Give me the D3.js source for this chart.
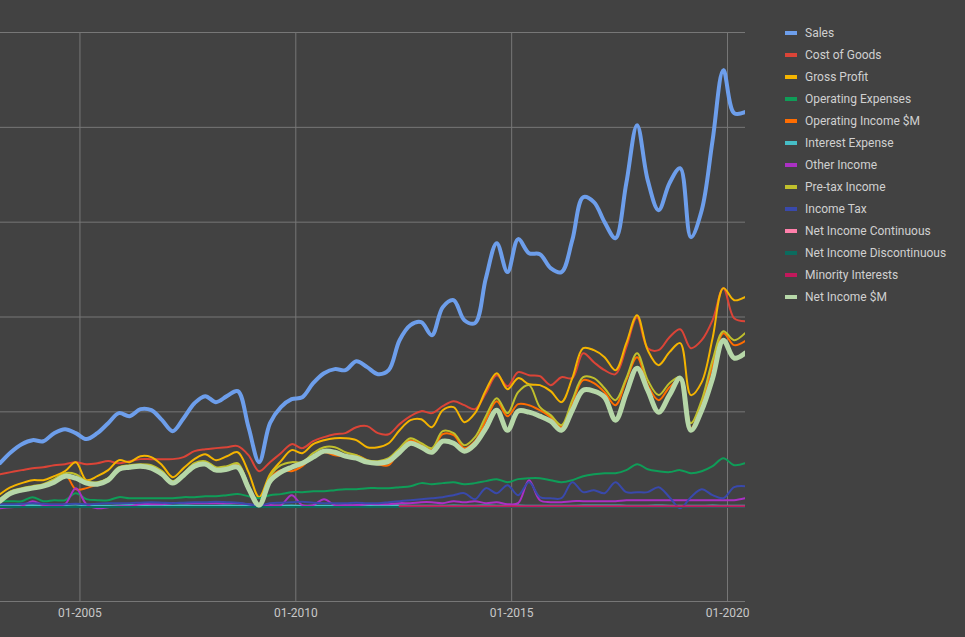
<!DOCTYPE html>
<html>
<head>
<meta charset="utf-8">
<script src="https://cdn.jsdelivr.net/npm/d3@7"></script>
<style>
  html, body { margin: 0; padding: 0; background: #424242; }
  svg { display: block; font-family: Roboto, 'Noto Sans', sans-serif; }
</style>
</head>
<body>
<script>
// quarterly periods, $M
const quarters = [
  '2003-03', '2003-06', '2003-09', '2003-12', '2004-03', '2004-06', '2004-09', '2004-12',
  '2005-03', '2005-06', '2005-09', '2005-12', '2006-03', '2006-06', '2006-09', '2006-12',
  '2007-03', '2007-06', '2007-09', '2007-12', '2008-03', '2008-06', '2008-09', '2008-12',
  '2009-03', '2009-06', '2009-09', '2009-12', '2010-03', '2010-06', '2010-09', '2010-12',
  '2011-03', '2011-06', '2011-09', '2011-12', '2012-03', '2012-06', '2012-09', '2012-12',
  '2013-03', '2013-06', '2013-09', '2013-12', '2014-03', '2014-06', '2014-09', '2014-12',
  '2015-03', '2015-06', '2015-09', '2015-12', '2016-03', '2016-06', '2016-09', '2016-12',
  '2017-03', '2017-06', '2017-09', '2017-12', '2018-03', '2018-06', '2018-09', '2018-12',
  '2019-03', '2019-06', '2019-09', '2019-12', '2020-03', '2020-06',
]

const tickDates = ['2005-01', '2010-01', '2015-01', '2020-01']
const tickLabels = ['01-2005', '01-2010', '01-2015', '01-2020']
const yTicks = [-1000, 0, 1000, 2000, 3000, 4000, 5000]

const sales = [453, 569, 654, 696, 685, 770, 812, 770, 707, 770,
  875, 981, 949, 1023, 1012, 907, 791, 928, 1086, 1160,
  1097, 1160, 1213, 833, 464, 875, 1044, 1128, 1149, 1297,
  1402, 1445, 1434, 1529, 1466, 1392, 1434, 1750, 1909, 1940,
  1803, 2098, 2172, 1961, 1930, 2404, 2773, 2468, 2816, 2668,
  2657, 2510, 2468, 2805, 3258, 3206, 2995, 2826, 3406, 4018,
  3438, 3121, 3406, 3564, 2837, 3121, 3859, 4598, 4144, 4155]

const costOfGoods = [337, 359, 380, 401, 411, 432, 443, 464, 443, 453,
  475, 453, 475, 496, 496, 496, 496, 517, 580, 601,
  612, 622, 633, 538, 369, 464, 559, 654, 612, 685,
  728, 759, 770, 833, 844, 770, 759, 865, 949, 1002,
  981, 1055, 1107, 1065, 1023, 1192, 1381, 1265, 1413, 1381,
  1371, 1276, 1360, 1350, 1613, 1518, 1434, 1392, 1677, 1993,
  1666, 1645, 1782, 1866, 1666, 1750, 1961, 2299, 1982, 1951]

const grossProfit = [127, 200, 243, 274, 274, 316, 369, 464, 274, 316,
  380, 485, 464, 527, 517, 432, 306, 401, 496, 548,
  485, 527, 569, 359, 95, 337, 475, 591, 559, 654,
  696, 717, 717, 696, 622, 622, 664, 801, 907, 917,
  833, 1012, 1044, 886, 981, 1223, 1402, 1234, 1350, 1286,
  1276, 1213, 1097, 1350, 1666, 1645, 1571, 1434, 1719, 2014,
  1645, 1487, 1624, 1719, 1171, 1308, 1772, 2299, 2172, 2204]

const opExpenses = [53, 53, 53, 95, 53, 63, 63, 137, 74, 63,
  63, 95, 84, 84, 84, 84, 84, 95, 95, 105,
  105, 116, 127, 105, 84, 116, 127, 148, 148, 158,
  158, 169, 179, 179, 190, 190, 190, 200, 211, 243,
  232, 243, 253, 232, 243, 264, 285, 253, 285, 295,
  295, 274, 253, 274, 316, 337, 348, 348, 380, 443,
  390, 369, 359, 380, 348, 369, 422, 506, 432, 453]

const opIncome = [63, 148, 179, 200, 221, 274, 337, 179, 190, 232,
  285, 401, 411, 432, 422, 359, 253, 337, 443, 464,
  401, 411, 443, 211, 11, 295, 380, 369, 422, 527,
  569, 538, 527, 538, 485, 443, 432, 601, 696, 643,
  591, 759, 749, 612, 685, 907, 1107, 949, 1076, 1065,
  1012, 939, 833, 1086, 1329, 1297, 1202, 1065, 1329, 1571,
  1276, 1118, 1255, 1329, 823, 1076, 1487, 1824, 1698, 1740]

const interestExp = [5, 5, 8, 10, 6, 5, 10, 18, 6, 5,
  5, 8, 12, 6, 5, 5, 5, 6, 5, 5,
  5, 6, 5, 5, 0, 5, 5, 6, 5, 5,
  5, 5, 6, 5, 5, 8, 10, 8, 5, 5,
  5, 5, 6, 5, 5, 6, 5, 5, 6, 5,
  5, 5, 5, 5, 6, 8, 8, 8, 5, 5,
  5, 6, 5, 5, 5, 5, 6, 5, 5, 5]

const otherIncome = [-21, -11, 0, 53, 11, 11, 21, 190, 21, -21,
  -11, 0, 0, 21, 21, 21, 32, 32, 32, 32,
  32, 32, 32, 21, 0, 11, 11, 116, 11, 11,
  74, 11, 11, 11, 21, 21, 21, 32, 32, 42,
  42, 32, 53, 42, 53, 32, 42, 21, 32, 274,
  63, 42, 42, 53, 53, 53, 53, 53, 63, 63,
  63, 63, 63, 63, 63, 63, 63, 63, 63, 84]

const pretaxIncome = [74, 158, 190, 211, 232, 285, 348, 337, 264, 253,
  295, 411, 432, 443, 432, 369, 264, 348, 453, 475,
  411, 422, 453, 221, 21, 316, 432, 464, 464, 559,
  622, 622, 569, 538, 485, 475, 506, 612, 717, 664,
  612, 791, 770, 643, 728, 949, 1139, 981, 1202, 1276,
  1044, 960, 854, 1118, 1360, 1350, 1244, 1118, 1350, 1613,
  1329, 1171, 1297, 1360, 875, 1118, 1540, 1845, 1750, 1824]

const incomeTax = [21, 21, 25, 30, 25, 21, 21, 25, 21, 25,
  30, 32, 32, 37, 42, 37, 32, 37, 42, 42,
  47, 42, 37, 21, 5, 32, 37, 42, 47, 37,
  32, 32, 32, 37, 32, 32, 42, 53, 63, 74,
  84, 95, 116, 137, 74, 190, 137, 221, 116, 253,
  95, 84, 84, 253, 148, 169, 137, 253, 148, 148,
  148, 200, 95, -21, 95, 179, 116, 84, 200, 211]

const netIncome = [53, 137, 169, 190, 211, 253, 316, 295, 243, 232,
  274, 390, 411, 422, 401, 337, 243, 327, 422, 443,
  380, 390, 411, 190, 11, 264, 359, 411, 453, 517,
  580, 569, 527, 506, 464, 453, 475, 569, 664, 622,
  569, 685, 664, 580, 654, 823, 1012, 801, 1002, 991,
  949, 896, 801, 1012, 1223, 1213, 1149, 907, 1192, 1455,
  1223, 991, 1171, 1350, 801, 1012, 1350, 1750, 1561, 1613]

// continuing ops == net income for this company
const netIncomeCont = netIncome

const netIncomeDisc = [-8, -8, -8, -8, -8, -8, -8, -8, -8, -8,
  -8, -8, -8, -8, -8, -8, -8, -8, -8, -8,
  -8, -8, -8, -8, -8, -8, -8, -8, -8, -8,
  -8, -8, -8, -8, -8, -8, -8, -8, -8, -8,
  -8, -8, -8, -8, -8, -8, -8, -8, -8, -8,
  -8, -8, -8, -8, -8, -8, -8, -8, -8, -8,
  -8, -8, -8, -8, -8, -8, -8, -8, -8, -8]

const minorityInt = [null, null, null, null, null, null, null, null, null, null,
  null, null, null, null, null, null, null, null, null, null,
  null, null, null, null, null, null, null, null, null, null,
  null, null, null, null, null, null, null, 0, 0, 0,
  0, 0, 0, 0, 0, 0, 0, 0, 0, 0,
  0, 0, 0, 0, 0, 0, 0, 0, 0, 0,
  0, 0, 0, 0, 0, 0, 0, 0, 0, 0]

const seriesNames = ['Sales', 'Cost of Goods', 'Gross Profit', 'Operating Expenses',
  'Operating Income $M', 'Interest Expense', 'Other Income', 'Pre-tax Income', 'Income Tax',
  'Net Income Continuous', 'Net Income Discontinuous', 'Minority Interests', 'Net Income $M']
const seriesValues = [sales, costOfGoods, grossProfit, opExpenses, opIncome, interestExp,
  otherIncome, pretaxIncome, incomeTax, netIncomeCont, netIncomeDisc, minorityInt, netIncome]
const seriesColors = ['#6d9eeb', '#db4437', '#f4b400', '#0f9d58', '#ff6d01', '#46bdc6',
  '#ab30c4', '#c0c02c', '#3949ab', '#ff80ab', '#0b6b5e', '#c2185b', '#b6d7a8']
const seriesWidths = [4, 2, 2, 2, 2, 2, 2, 2, 2, 2, 2, 2, 5]

const width = 965
const height = 637
const margin = { top: 32, right: 220, bottom: 36, left: 0 }

const parse = d3.timeParse('%Y-%m')
const dates = quarters.map(parse)

const x = d3
  .scaleTime()
  .domain([dates[0], dates[dates.length - 1]])
  .range([margin.left, width - margin.right])

const y = d3
  .scaleLinear()
  .domain([-1000, 5000])
  .range([height - margin.bottom, margin.top])

const svg = d3.create('svg').attr('width', width).attr('height', height)

svg.append('rect').attr('width', width).attr('height', height).attr('fill', '#424242')

// horizontal grid
svg
  .append('g')
  .attr('transform', `translate(${margin.left},0)`)
  .call(d3.axisLeft(y).tickValues(yTicks).tickSize(-(width - margin.right - margin.left)).tickFormat(''))
  .call(g => g.select('.domain').remove())
  .call(g => g.selectAll('.tick line').attr('stroke', '#777').attr('stroke-width', 1))

// vertical grid + labels
svg
  .append('g')
  .attr('transform', `translate(0,${height - margin.bottom})`)
  .call(
    d3
      .axisBottom(x)
      .tickValues(tickDates.map(parse))
      .tickFormat((d, i) => tickLabels[i])
      .tickSize(-(height - margin.bottom - margin.top))
      .tickPadding(7),
  )
  .call(g => g.select('.domain').remove())
  .call(g => g.selectAll('.tick line').attr('stroke', '#777'))
  .call(g =>
    g
      .selectAll('.tick text')
      .attr('fill', '#c8c8c8')
      .attr('font-size', 12)
      .attr('font-family', 'Roboto, sans-serif'),
  )

svg
  .append('clipPath')
  .attr('id', 'plot')
  .append('rect')
  .attr('x', margin.left)
  .attr('y', margin.top - 10)
  .attr('width', width - margin.right - margin.left)
  .attr('height', height - margin.bottom - margin.top + 20)

const line = d3
  .line()
  .defined(d => d[1] != null)
  .x(d => x(d[0]))
  .y(d => y(d[1]))
  .curve(d3.curveCatmullRom.alpha(0.5))

svg
  .append('g')
  .attr('clip-path', 'url(#plot)')
  .attr('fill', 'none')
  .attr('stroke-linejoin', 'round')
  .attr('stroke-linecap', 'round')
  .selectAll('path')
  .data(seriesValues)
  .join('path')
  .attr('stroke', (d, i) => seriesColors[i])
  .attr('stroke-width', (d, i) => seriesWidths[i])
  .attr('d', vals => line(vals.map((v, i) => [dates[i], v])))

// legend
const legend = svg
  .append('g')
  .attr('transform', 'translate(785,33)')
  .selectAll('g')
  .data(seriesNames)
  .join('g')
  .attr('transform', (d, i) => `translate(0,${i * 22})`)

legend
  .append('rect')
  .attr('y', -2)
  .attr('width', 12)
  .attr('height', 4)
  .attr('fill', (d, i) => seriesColors[i])

legend
  .append('text')
  .attr('x', 20)
  .attr('y', 4)
  .attr('font-size', 12)
  .attr('fill', '#d0d0d0')
  .text(d => d)

document.body.appendChild(svg.node())
</script>
</body>
</html>
